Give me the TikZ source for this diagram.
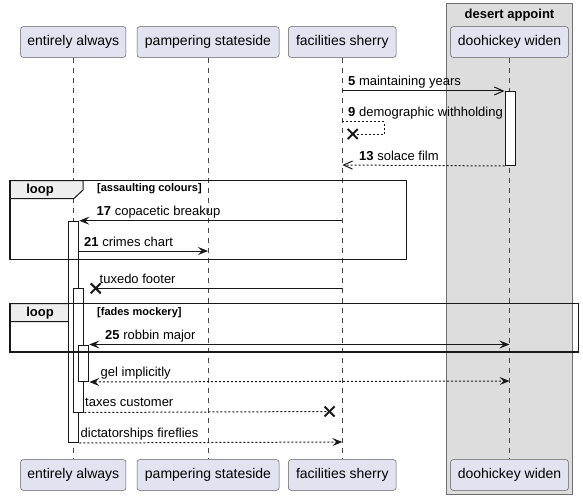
\documentclass[tikz,border=0pt]{standalone}
\usepackage{fontspec}
\setmainfont{Liberation Sans}
\usetikzlibrary{arrows.meta}
\definecolor{partfill}{HTML}{E2E2F0}
\definecolor{ink}{HTML}{181818}
\definecolor{boxgray}{HTML}{DDDDDD}
\definecolor{boxline}{HTML}{707070}
\definecolor{tabfill}{HTML}{EEEEEE}
\begin{document}
\begin{tikzpicture}[x=1pt,y=-1pt,
  part/.style={draw=ink!70, line width=0.5pt, fill=partfill, rounded corners=2.5pt,
    minimum height=30.6pt, inner sep=0pt, font=\fontsize{14}{16}\selectfont},
  msg/.style={anchor=base west, inner sep=0pt, font=\fontsize{13}{15}\selectfont},
  lifeline/.style={draw=ink!80, line width=0.5pt, dash pattern=on 5pt off 5pt},
  act/.style={draw=ink, line width=1pt, fill=white, inner sep=0pt, minimum width=10pt, anchor=north west},
  frame/.style={draw=ink, line width=1.5pt},
  tab/.style={draw=ink, line width=1pt, fill=tabfill},
  solidhead/.style={draw=ink, line width=1pt, -{Stealth[length=10pt,width=8pt,inset=4pt]}},
  bothhead/.style={draw=ink, line width=1pt, {Stealth[length=10pt,width=8pt,inset=4pt]}-{Stealth[length=10pt,width=8pt,inset=4pt]}},
  openhead/.style={draw=ink, line width=1pt, -{Straight Barb[length=9pt,width=8pt]}},
  plainline/.style={draw=ink, line width=1pt},
  dsh/.style={dash pattern=on 2pt off 2pt},
  xmark/.style={draw=ink, line width=2pt}
]
\useasboundingbox (0,0) rectangle (583,500);

% group box
\path[fill=boxgray, draw=boxline, line width=1pt] (446.5,3.5) rectangle (572.5,494);
\node[font=\bfseries\fontsize{13}{15}\selectfont, inner sep=0pt] (grp) at (509.5,15) {desert appoint};

% participants top
\node[part, minimum width=105.3pt] (ea) at (73.3,42) {entirely always};
\node[part, minimum width=142pt] (ps) at (208,42) {pampering stateside};
\node[part, minimum width=107.7pt] (fs) at (342.3,42) {facilities sherry};
\node[part, minimum width=117.8pt] (dw) at (509.5,42) {doohickey widen};
% participants bottom
\node[part, minimum width=105.3pt] (eab) at (73.3,475) {entirely always};
\node[part, minimum width=142pt] (psb) at (208,475) {pampering stateside};
\node[part, minimum width=107.7pt] (fsb) at (342.3,475) {facilities sherry};
\node[part, minimum width=117.8pt] (dwb) at (509.5,475) {doohickey widen};

% lifelines
\draw[lifeline] (ea.south) -- (eab.north);
\draw[lifeline] (ps.south) -- (psb.north);
\draw[lifeline] (fs.south) -- (fsb.north);
\draw[lifeline] (dw.south) -- (dwb.north);

% loop tabs
\draw[tab] (10,180.7) -- (83,180.7) -- (83,190) -- (74,198.5) -- (10,198.5) -- cycle;
\draw[tab] (10,303.5) -- (83,303.5) -- (83,313) -- (74,321.5) -- (10,321.5) -- cycle;

% activations
\node[act, minimum height=74pt] (ad) at (504.5,91) {};
\node[act, minimum height=221.3pt] (a1) at (68.3,220.7) {};
\node[act, minimum height=123.2pt] (a2) at (73.3,288.3) {};
\node[act, minimum height=36.5pt] (a3) at (78.3,344.5) {};

% loop frames
\draw[frame] (10,180.7) rectangle (406.7,259.3);
\node[font=\bfseries\fontsize{13}{15}\selectfont, inner sep=0pt] (l1) at (40,190) {loop};
\node[font=\bfseries\fontsize{11}{13}\selectfont, inner sep=0pt, anchor=west] (c1) at (97,189) {[assaulting colours]};

\draw[frame] (10,303.5) rectangle (578.3,352);
\node[font=\bfseries\fontsize{13}{15}\selectfont, inner sep=0pt] (l2) at (40,313) {loop};
\node[font=\bfseries\fontsize{11}{13}\selectfont, inner sep=0pt, anchor=west] (c2) at (97,312.5) {[fades mockery]};

% coordinates
\coordinate (m5a) at (342.3,91);
\coordinate (m9a) at (342.3,121.7);
\coordinate (m9b) at (384.3,121.7);
\coordinate (m9c) at (384.3,134);
\coordinate (m9x) at (352.7,134);
\coordinate (m13b) at (342.3,165);
\coordinate (m17a) at (342.3,220.7);
\coordinate (m21b) at (208,251);
\coordinate (mtxa) at (342.3,288.3);
\coordinate (mtxx) at (95.7,288.3);
\coordinate (m25b) at (509.5,344.5);
\coordinate (mgb) at (509.5,381);
\coordinate (mtcx) at (329.5,411.5);
\coordinate (mdfb) at (342.3,442);

% messages
\draw[openhead] (m5a) -- (m5a -| ad.west);
\node[msg] (t5) at (348,86) {\textbf{5} maintaining years};

\draw[plainline, dsh] (m9a) -- (m9b) -- (m9c) -- (m9x);
\draw[xmark] ([shift={(-5,-5)}]m9x) -- ([shift={(5,5)}]m9x);
\draw[xmark] ([shift={(-5,5)}]m9x) -- ([shift={(5,-5)}]m9x);
\node[msg] (t9) at (348,117) {\textbf{9} demographic withholding};

\draw[openhead, dsh] (ad.south west) -- (m13b);
\node[msg] (t13) at (359,160) {\textbf{13} solace film};

\draw[solidhead] (m17a) -- (m17a -| a1.east);
\node[msg] (t17) at (96.5,215.7) {\textbf{17} copacetic breakup};

\draw[solidhead] (m21b -| a1.east) -- (m21b);
\node[msg] (t21) at (84,246) {\textbf{21} crimes chart};

\draw[plainline] (mtxa) -- (mtxx);
\draw[xmark] ([shift={(-5,-5)}]mtxx) -- ([shift={(5,5)}]mtxx);
\draw[xmark] ([shift={(-5,5)}]mtxx) -- ([shift={(5,-5)}]mtxx);
\node[msg] (ttx) at (99.5,283.3) {tuxedo footer};

\draw[bothhead] (a3.north east) -- (m25b);
\node[msg] (t25) at (105,339.5) {\textbf{25} robbin major};

\draw[bothhead, dsh] (a3.south east) -- (mgb);
\node[msg] (tg) at (100.5,376) {gel implicitly};

\draw[plainline, dsh] (a2.south east) -- (mtcx);
\draw[xmark] ([shift={(-5,-5)}]mtcx) -- ([shift={(5,5)}]mtcx);
\draw[xmark] ([shift={(-5,5)}]mtcx) -- ([shift={(5,-5)}]mtcx);
\node[msg] (ttc) at (85,406.5) {taxes customer};

\draw[solidhead, dsh] (a1.south east) -- (mdfb);
\node[msg] (tdf) at (80.5,437) {dictatorships fireflies};
\end{tikzpicture}
\end{document}
